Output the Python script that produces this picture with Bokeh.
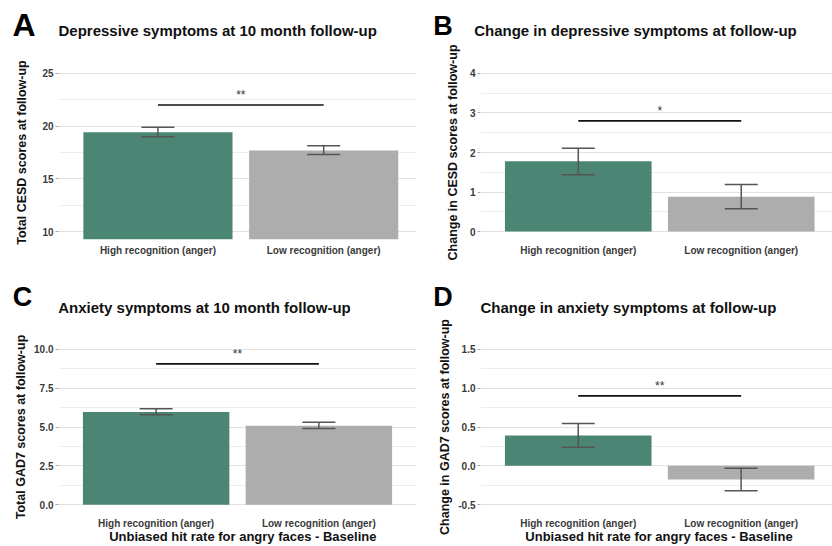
from bokeh.plotting import figure
from bokeh.models import (ColumnDataSource, Whisker, TeeHead, Label, FixedTicker,
                          PrintfTickFormatter, Range1d)
from bokeh.layouts import gridplot
from bokeh.embed import file_html
from bokeh.resources import INLINE

# ---------------- data ----------------
categories = ["High recognition (anger)", "Low recognition (anger)"]

cesd_mean = [19.43, 17.70]
cesd_lower = [19.00, 17.30]
cesd_upper = [19.90, 18.15]

cesd_change_mean = [1.78, 0.88]
cesd_change_lower = [1.44, 0.58]
cesd_change_upper = [2.11, 1.19]

gad_mean = [5.96, 5.08]
gad_lower = [5.78, 4.91]
gad_upper = [6.17, 5.31]

gad_change_mean = [0.39, -0.176]
gad_change_lower = [0.24, -0.32]
gad_change_upper = [0.545, -0.03]

sig_y = [22.0, 2.8, 9.06, 0.9]
sig_text = ["**", "*", "**", "**"]

ticks_a = [10, 15, 20, 25]
minor_a = [12.5, 17.5, 22.5]
ticks_b = [0, 1, 2, 3, 4]
minor_b = [0.5, 1.5, 2.5, 3.5]
ticks_c = [0.0, 2.5, 5.0, 7.5, 10.0]
minor_c = [1.25, 3.75, 6.25, 8.75]
ticks_d = [-0.5, 0.0, 0.5, 1.0, 1.5]
minor_d = [-0.25, 0.25, 0.75, 1.25]

x_title = "Unbiased hit rate for angry faces - Baseline"

colors = ["#4a8673", "#adadad"]
FONT = "Liberation Sans"

# category positions on a numeric axis (1, 2, ...)
xpos = [i + 1 for i in range(len(categories))]


def panel(letter, title, ylabel, means, lows, highs, sig, stext, ticks, minor, fmt,
          yr, xr_end, W, H, mbl, mbr, mbt, mbb, letter_pos, letter_size, title_pos,
          yl_standoff, xlabel=None, xlabel_pos=None):
    p = figure(width=W, height=H, x_range=Range1d(0.4, xr_end), y_range=Range1d(*yr),
               output_backend="svg", toolbar_location=None,
               min_border_left=mbl, min_border_right=mbr, min_border_top=mbt,
               min_border_bottom=mbb)
    p.outline_line_color = None
    p.background_fill_color = "white"
    p.border_fill_color = "white"

    src = ColumnDataSource(dict(x=xpos, top=means, lo=lows, hi=highs, color=colors))
    p.vbar(x="x", top="top", bottom=0, width=0.9, color="color", line_color=None, source=src)
    w = Whisker(base="x", upper="hi", lower="lo", source=src, line_color="#555555",
                line_width=1.5, level="overlay",
                upper_head=TeeHead(size=33, line_color="#555555", line_width=1.5),
                lower_head=TeeHead(size=33, line_color="#555555", line_width=1.5))
    p.add_layout(w)

    p.segment(x0=[xpos[0]], x1=[xpos[1]], y0=[sig], y1=[sig],
              line_color="#111111", line_width=1.6)
    p.add_layout(Label(x=(xpos[0] + xpos[1]) / 2, y=sig, text=stext, text_align="center",
                       text_baseline="alphabetic", y_offset=10, text_font=FONT,
                       text_font_size="12px", text_color="#333333"))

    # axes
    p.yaxis.ticker = FixedTicker(ticks=ticks, minor_ticks=minor)
    p.yaxis.formatter = PrintfTickFormatter(format=fmt)
    p.yaxis.axis_line_color = None
    p.yaxis.major_tick_out = 3
    p.yaxis.major_tick_in = 0
    p.yaxis.major_tick_line_color = "#aaaaaa"
    p.yaxis.minor_tick_line_color = None
    p.yaxis.major_label_standoff = 1
    p.yaxis.major_label_text_font = FONT
    p.yaxis.major_label_text_font_style = "bold"
    p.yaxis.major_label_text_font_size = "10px"
    p.yaxis.major_label_text_color = "#3a3a3a"
    p.yaxis.axis_label = ylabel
    p.yaxis.axis_label_text_font = FONT
    p.yaxis.axis_label_text_font_style = "bold"
    p.yaxis.axis_label_text_font_size = "12.5px"
    p.yaxis.axis_label_text_color = "#111111"
    p.yaxis.axis_label_standoff = yl_standoff

    p.xaxis.ticker = FixedTicker(ticks=xpos, minor_ticks=[])
    p.xaxis.major_label_overrides = {x: c for x, c in zip(xpos, categories)}
    p.xaxis.axis_line_color = None
    p.xaxis.major_tick_line_color = None
    p.xaxis.minor_tick_line_color = None
    p.xaxis.major_tick_out = 0
    p.xaxis.major_label_standoff = 5
    p.xaxis.major_label_text_font = FONT
    p.xaxis.major_label_text_font_style = "bold"
    p.xaxis.major_label_text_font_size = "10px"
    p.xaxis.major_label_text_color = "#3a3a3a"
    if xlabel:
        bx, by = xlabel_pos
        p.add_layout(Label(x=bx, y=by, x_units="canvas", y_units="canvas",
                           text=xlabel, text_align="center", text_font=FONT,
                           text_font_style="bold", text_font_size="13px",
                           text_color="#111111", text_baseline="alphabetic"), "below")

    p.xgrid.grid_line_color = None
    p.ygrid.grid_line_color = "#e2e2e2"
    p.ygrid.grid_line_width = 1.2
    p.ygrid.minor_grid_line_color = "#eeeeee"
    p.ygrid.minor_grid_line_width = 1

    # panel letter and title (canvas pixels, vertical centre of the capitals)
    lx, ly = letter_pos
    tx, ty = title_pos
    p.add_layout(Label(x=lx, y=ly, x_units="canvas", y_units="canvas",
                       text=letter, text_font=FONT, text_font_style="bold",
                       text_font_size=letter_size, text_color="#000000",
                       text_baseline="alphabetic"), "above")
    p.add_layout(Label(x=tx, y=ty, x_units="canvas", y_units="canvas",
                       text=title, text_font=FONT, text_font_style="bold",
                       text_font_size="15px", text_color="#111111",
                       text_baseline="alphabetic"), "above")
    return p


pA = panel("A", "Depressive symptoms at 10 month follow-up", "Total CESD scores at follow-up",
           cesd_mean, cesd_lower, cesd_upper, sig_y[0], sig_text[0], ticks_a, minor_a, "%d",
           (9.25, 25.75), 2.56, 416, 273, 57, 0, 65, 34, (12, 24.2), "32px", (58, 29.6), 10)
pB = panel("B", "Change in depressive symptoms at follow-up", "Change in CESD scores at follow-up",
           cesd_change_mean, cesd_change_lower, cesd_change_upper, sig_y[1], sig_text[1],
           ticks_b, minor_b, "%d",
           (-0.2, 4.2), 2.56, 416, 273, 58, 0, 65, 34, (16.7, 25.5), "27px", (57.7, 30), 7)
pC = panel("C", "Anxiety symptoms at 10 month follow-up", "Total GAD7 scores at follow-up",
           gad_mean, gad_lower, gad_upper, sig_y[2], sig_text[2], ticks_c, minor_c, "%.1f",
           (-0.5, 10.5), 2.6, 416, 273, 58, 0, 68, 30, (12.3, 23), "27px", (57.7, 33.5), 3,
           xlabel=x_title, xlabel_pos=(242.3, 262.5))
pD = panel("D", "Change in anxiety symptoms at follow-up", "Change in GAD7 scores at follow-up",
           gad_change_mean, gad_change_lower, gad_change_upper, sig_y[3], sig_text[3],
           ticks_d, minor_d, "%.1f",
           (-0.6, 1.6), 2.561, 416, 273, 64, 0, 68, 30, (16.7, 23), "27px", (64, 33.5), 3,
           xlabel=x_title, xlabel_pos=(242.5, 262.5))

grid = gridplot([[pA, pB], [pC, pD]], toolbar_location=None)

open("out.html", "w").write(file_html(grid, INLINE))
